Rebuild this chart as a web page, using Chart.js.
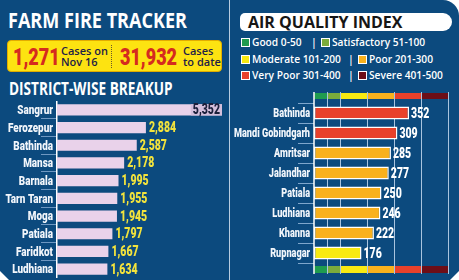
<!DOCTYPE html>
<html>
<head>
<meta charset="utf-8">
<script src="https://cdn.jsdelivr.net/npm/chart.js@4.4.1/dist/chart.umd.min.js"></script>
<style>
  body { margin: 0; background: #fff; }
  #wrap { position: relative; width: 459px; height: 280px; background: #0c4a7e; overflow: hidden;
          border-top-right-radius: 16px; font-family: "Open Sans", sans-serif; }
  .abs { position: absolute; white-space: nowrap; }
  .head { color: #fff; font-weight: 700; transform-origin: 0 0; }
  #sep { left: 229px; top: 0; width: 1px; height: 280px; background: #b8cce0; }
  #ybox { left: 7px; top: 40px; width: 215px; height: 32px; box-sizing: border-box; background: #fde311;
          border: 1px solid #e2ad00; border-radius: 4px; }
  .big { color: #d52a1f; font: 900 24px/24px Roboto, sans-serif; transform: scaleX(0.75); transform-origin: 0 0; }
  .small { color: #1e2147; font: 600 11px/11px "Open Sans", sans-serif; }
  #dots { left: 111px; top: 45px; height: 23px; border-left: 1px dotted #6b5a2a; }
  #aqbox { left: 240px; top: 13px; width: 212px; height: 18px; background: #fff; border-radius: 5px 9px 9px 5px; }
  .leg { display: flex; align-items: center; height: 12px; color: #fff; font: 600 10.2px/12px "Open Sans", sans-serif; }
  .leg i { display: inline-block; width: 7px; height: 7px; border: 1px solid #fff; margin-right: 2px; }
  .bar { color: #fff; font: 600 10.5px/12px "Open Sans", sans-serif; }
  canvas { position: absolute; }
  .corner { position: absolute; width: 0; height: 0; }
</style>
</head>
<body>
<div id="wrap">
  <div class="abs head" style="left:8px;top:10px;font-size:21px;line-height:21px;transform:scaleX(0.86)">FARM FIRE TRACKER</div>
  <div class="abs" id="ybox"></div>
  <div class="abs big" style="left:13px;top:45px">1,271</div>
  <div class="abs small" style="left:61px;top:45px">Cases on<br>Nov 16</div>
  <div class="abs" id="dots"></div>
  <div class="abs big" style="left:120px;top:45px">31,932</div>
  <div class="abs small" style="left:183px;top:45px">Cases<br>to date</div>
  <div class="abs head" style="left:9px;top:80px;font-size:17px;line-height:17px;transform:scaleX(0.8)">DISTRICT-WISE BREAKUP</div>

  <div class="abs" id="sep"></div>

  <div class="abs" id="aqbox"></div>
  <div class="abs" style="left:248px;top:14px;color:#161616;font:700 16px/16px 'Open Sans',sans-serif">AIR QUALITY INDEX</div>
  <div id="legend"></div>

  <canvas id="fires" width="230" height="177" style="left:0;top:101px"></canvas>
  <canvas id="aqi" width="229" height="194" style="left:230px;top:86px"></canvas>

  <div class="corner" style="left:0;bottom:0;border-bottom:9px solid #fff;border-right:9px solid transparent"></div>
  <div class="corner" style="right:0;bottom:0;border-bottom:9px solid #fff;border-left:9px solid transparent"></div>
</div>

<script>
// farm fires, district-wise
const districts = ['Sangrur', 'Ferozepur', 'Bathinda', 'Mansa', 'Barnala', 'Tarn Taran', 'Moga', 'Patiala', 'Faridkot', 'Ludhiana'];
const fireCases = [5352, 2884, 2587, 2178, 1995, 1955, 1945, 1797, 1667, 1634];

// air quality index by city
const cities = ['Bathinda', 'Mandi Gobindgarh', 'Amritsar', 'Jalandhar', 'Patiala', 'Ludhiana', 'Khanna', 'Rupnagar'];
const aqiValues = [352, 309, 285, 277, 250, 246, 222, 176];

// AQI categories
const aqiNames = ['Good 0-50', 'Satisfactory 51-100', 'Moderate 101-200', 'Poor 201-300', 'Very Poor 301-400', 'Severe 401-500'];
const aqiLimits = [50, 100, 200, 300, 400, 500];
const aqiColours = ['#1f9b4f', '#7bab3c', '#f8ea12', '#f9b11d', '#e8412b', '#6d0e17'];

const SQUEEZE = 0.75; // the print font is a bold condensed face, fake it with Roboto

// legend, two per row
const legendSlots = [[241, 321, 311], [241, 358, 348], [241, 358, 348]];
const legendTops = [36, 53, 69];
let html = '';
legendSlots.forEach((slot, r) => {
  for (let k = 0; k < 2; k++) {
    const n = r * 2 + k;
    html += `<div class="abs leg" style="left:${slot[k]}px;top:${legendTops[r]}px"><i style="background:${aqiColours[n]}"></i>${aqiNames[n]}</div>`;
  }
  html += `<div class="abs bar" style="left:${slot[2]}px;top:${legendTops[r]}px">|</div>`;
});
document.getElementById('legend').innerHTML = html;

function aqiColour(v) {
  return aqiColours[aqiLimits.findIndex(l => v <= l)];
}

function squeezedText(ctx, txt, x, y, align) {
  ctx.save();
  ctx.translate(x, y);
  ctx.scale(SQUEEZE, 1);
  ctx.textAlign = align;
  ctx.fillText(txt, 0, 0);
  ctx.restore();
}

// category names left of the axis
function catLabels(opts) {
  return {
    id: 'catLabels',
    afterDraw(chart) {
      const ctx = chart.ctx, y = chart.scales.y;
      ctx.save();
      ctx.font = `900 ${opts.size}px Roboto`;
      ctx.fillStyle = '#f2f6fb';
      ctx.textBaseline = 'middle';
      chart.data.labels.forEach((lab, i) => {
        squeezedText(ctx, lab, y.right - opts.gap, y.getPixelForValue(i) + 1, 'right');
      });
      ctx.restore();
    }
  };
}

// numbers at the end of each bar
function valueLabels(opts) {
  return {
    id: 'valueLabels',
    afterDatasetsDraw(chart) {
      const ctx = chart.ctx;
      const meta = chart.getDatasetMeta(0);
      const data = chart.data.datasets[0].data;
      ctx.save();
      ctx.font = `900 ${opts.size}px Roboto`;
      ctx.textBaseline = 'middle';
      meta.data.forEach((bar, i) => {
        const txt = data[i].toLocaleString('en-US');
        const w = ctx.measureText(txt).width * SQUEEZE;
        if (bar.x + opts.gap + w > chart.width - 1) {
          // no room outside, put it inside the bar end on a darker patch
          ctx.fillStyle = '#d4bfdc';
          ctx.fillRect(bar.x - w - 4, bar.y - bar.height / 2, w + 4, bar.height);
          ctx.fillStyle = opts.inside;
          squeezedText(ctx, txt, bar.x - 2, bar.y + 1, 'right');
        } else {
          ctx.fillStyle = opts.colour;
          squeezedText(ctx, txt, bar.x + opts.gap, bar.y + 1, 'left');
        }
      });
      ctx.restore();
    }
  };
}

// coloured category bands and threshold lines behind the AQI bars
const aqiBackdrop = {
  id: 'aqiBackdrop',
  beforeDatasetsDraw(chart) {
    const { ctx, chartArea: a, scales: { x } } = chart;
    const top = a.top - 10, bottom = a.bottom + 10;
    ctx.save();
    let from = 0;
    aqiLimits.forEach((lim, i) => {
      const x0 = x.getPixelForValue(from), x1 = x.getPixelForValue(lim);
      ctx.fillStyle = aqiColours[i];
      ctx.fillRect(x0, top, x1 - x0, 6);
      ctx.fillRect(x0, a.bottom + 3, x1 - x0, 7);
      from = lim;
    });
    ctx.strokeStyle = '#a9c4df';
    ctx.lineWidth = 1;
    aqiLimits.forEach(lim => {
      const px = Math.round(x.getPixelForValue(lim)) - 0.5;
      ctx.beginPath(); ctx.moveTo(px, top - 1); ctx.lineTo(px, bottom + 1); ctx.stroke();
    });
    ctx.strokeStyle = '#ffffff';
    ctx.lineWidth = 1.5;
    const px0 = x.getPixelForValue(0);
    ctx.beginPath(); ctx.moveTo(px0, top - 1); ctx.lineTo(px0, bottom + 1); ctx.stroke();
    ctx.restore();
  }
};

new Chart(document.getElementById('fires'), {
  type: 'bar',
  data: {
    labels: districts,
    datasets: [{ data: fireCases, backgroundColor: '#e9d2ea', barPercentage: 0.63, categoryPercentage: 1 }]
  },
  options: {
    indexAxis: 'y',
    responsive: false,
    animation: false,
    layout: { padding: { left: 0, right: 8, top: 0, bottom: 0 } },
    plugins: { legend: { display: false }, tooltip: { enabled: false } },
    scales: {
      x: { display: false, min: 0, max: Math.max(...fireCases) },
      y: {
        afterFit: s => { s.width = 57; },
        grid: { offset: true, drawOnChartArea: false, tickLength: 16, color: '#6f98c2' },
        border: { color: '#ffffff', width: 1.5 },
        ticks: { display: false }
      }
    }
  },
  plugins: [catLabels({ size: 13.2, gap: 4 }), valueLabels({ size: 14, gap: 3, colour: '#f3e33c', inside: '#1b1f3b' })]
});

new Chart(document.getElementById('aqi'), {
  type: 'bar',
  data: {
    labels: cities,
    datasets: [{
      data: aqiValues,
      backgroundColor: aqiValues.map(aqiColour),
      borderColor: '#ffffff',
      borderWidth: 1.5,
      borderSkipped: false,
      barPercentage: 0.66,
      categoryPercentage: 1
    }]
  },
  options: {
    indexAxis: 'y',
    responsive: false,
    animation: false,
    layout: { padding: { left: 0, right: 10, top: 17, bottom: 17 } },
    plugins: { legend: { display: false }, tooltip: { enabled: false } },
    scales: {
      x: { display: false, min: 0, max: 500 },
      y: {
        afterFit: s => { s.width = 84; },
        grid: { offset: true, drawOnChartArea: false, tickLength: 16, color: '#7ea6cc' },
        border: { display: false },
        ticks: { display: false }
      }
    }
  },
  plugins: [aqiBackdrop, catLabels({ size: 12.2, gap: 4 }), valueLabels({ size: 14, gap: 2, colour: '#ffffff', inside: '#ffffff' })]
});
</script>
</body>
</html>
